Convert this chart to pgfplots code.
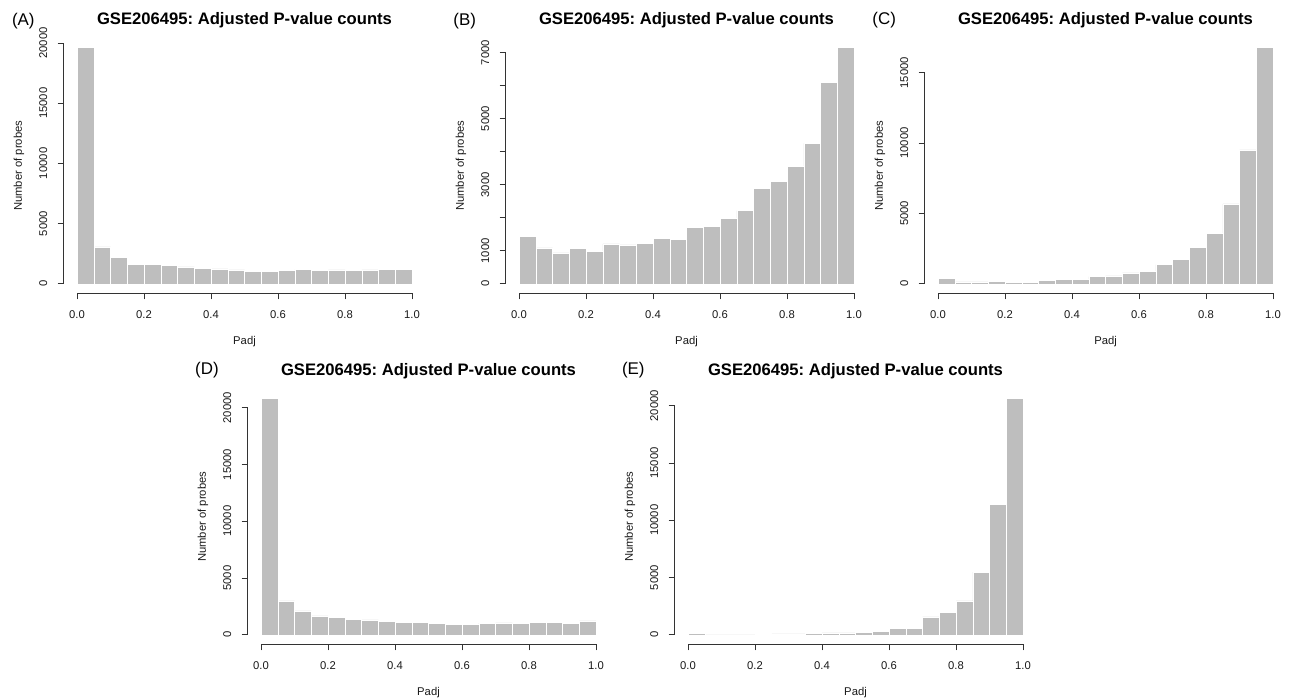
\documentclass[border=0pt]{standalone}
\usepackage{fontspec}
\setmainfont{Liberation Sans}
\usepackage{pgfplots}
\pgfplotsset{compat=1.18}
\definecolor{bargray}{HTML}{BEBEBE}
\definecolor{axgray}{HTML}{333333}
\pgfplotsset{
  rhist/.style={
    scale only axis, width=361.8bp, height=255bp,
    xmin=-0.04, xmax=1.04,
    axis x line*=bottom, axis y line*=left,
    separate axis lines,
    x axis line style={axgray, line width=0.8bp, shorten <=13.4bp, shorten >=13.4bp},
    clip=false,
    scaled y ticks=false,
    tick align=outside, major tick length=6bp,
    tick style={axgray, line width=0.8bp},
    xtick={0,0.2,0.4,0.6,0.8,1},
    xticklabels={0.0,0.2,0.4,0.6,0.8,1.0},
    ticklabel style={font=\fontsize{11.3}{13}\selectfont, inner sep=0pt, text=black!90},
    xticklabel style={anchor=north},
    xticklabel shift=10.7bp,
    yticklabel style={rotate=90, anchor=base},
    yticklabel shift=10.6bp,
    title style={font=\bfseries\fontsize{16.7}{19}\selectfont, at={([yshift=7.7bp]rel axis cs:0.5,1)}, anchor=base, inner sep=0pt},
    title={GSE206495: Adjusted P-value counts},
    xlabel={Padj}, ylabel={Number of probes},
    label style={font=\fontsize{11.3}{13}\selectfont, inner sep=0pt, text=black!90},
    xlabel style={at={([yshift=-51.5bp]rel axis cs:0.5,0)}, anchor=base},
    ylabel style={at={([xshift=-41.8bp]rel axis cs:0,0.5)}, anchor=base},
  },
  ytop/.style={y axis line style={axgray, line width=0.8bp, shorten <=9.44bp, shorten >=#1}},
  hbar/.style={ybar, bar width=0.05, fill=bargray, draw=white, line width=0.5bp},
}
\begin{document}
\frenchspacing
\begin{tikzpicture}[x=1bp,y=1bp]
\useasboundingbox (0,0) rectangle (1293,700);
% (A)
\begin{axis}[rhist, ytop=4.63bp, at={(63.6bp,406.7bp)}, anchor=south west,
  ymin=-784, ymax=20384,
  ytick={0,5000,10000,15000,20000}, yticklabels={0,5000,10000,15000,20000}]
\addplot[hbar] coordinates {
(0.025,19600) (0.075,3070) (0.125,2210) (0.175,1600) (0.225,1600)
(0.275,1520) (0.325,1410) (0.375,1300) (0.425,1240) (0.475,1160)
(0.525,1050) (0.575,1050) (0.625,1110) (0.675,1190) (0.725,1130)
(0.775,1160) (0.825,1130) (0.875,1160) (0.925,1220) (0.975,1190)};
\end{axis}
% (B)
\begin{axis}[rhist, ytop=14.40bp, at={(505.6bp,406.7bp)}, anchor=south west,
  ymin=-286, ymax=7436,
  ytick={0,1000,2000,3000,4000,5000,6000,7000}, yticklabels={0,1000,,3000,,5000,,7000}]
\addplot[hbar] coordinates {
(0.025,1440) (0.075,1090) (0.125,940) (0.175,1070) (0.225,980)
(0.275,1210) (0.325,1180) (0.375,1230) (0.425,1380) (0.475,1340)
(0.525,1720) (0.575,1750) (0.625,1980) (0.675,2220) (0.725,2900)
(0.775,3100) (0.825,3550) (0.875,4250) (0.925,6110) (0.975,7150)};
\end{axis}
% (C)
\begin{axis}[rhist, ytop=34.37bp, at={(924.6bp,406.7bp)}, anchor=south west,
  ymin=-670.8, ymax=17440.8,
  ytick={0,5000,10000,15000}, yticklabels={0,5000,10000,15000}]
\addplot[hbar] coordinates {
(0.025,380) (0.075,140) (0.125,140) (0.175,190) (0.225,90)
(0.275,90) (0.325,240) (0.375,330) (0.425,330) (0.475,520)
(0.525,570) (0.575,780) (0.625,900) (0.675,1370) (0.725,1730)
(0.775,2600) (0.825,3600) (0.875,5680) (0.925,9510) (0.975,16770)};
\end{axis}
% (D)
\begin{axis}[rhist, ytop=18.42bp, at={(247.6bp,55.7bp)}, anchor=south west,
  ymin=-831.6, ymax=21621.6,
  ytick={0,5000,10000,15000,20000}, yticklabels={0,5000,10000,15000,20000}]
\addplot[hbar] coordinates {
(0.025,20790) (0.075,3000) (0.125,2110) (0.175,1670) (0.225,1560)
(0.275,1350) (0.325,1320) (0.375,1170) (0.425,1090) (0.475,1090)
(0.525,1000) (0.575,940) (0.625,940) (0.675,1030) (0.725,1060)
(0.775,1000) (0.825,1120) (0.875,1120) (0.925,1030) (0.975,1230)};
\end{axis}
% (E)
\begin{axis}[rhist, ytop=16.43bp, at={(674.6bp,55.7bp)}, anchor=south west,
  ymin=-824.4, ymax=21434.4,
  ytick={0,5000,10000,15000,20000}, yticklabels={0,5000,10000,15000,20000}]
\addplot[hbar] coordinates {
(0.025,150) (0.075,0) (0.125,0) (0.175,0) (0.225,60)
(0.275,90) (0.325,90) (0.375,120) (0.425,170) (0.475,170)
(0.525,200) (0.575,290) (0.625,550) (0.675,580) (0.725,1570)
(0.775,1950) (0.825,2970) (0.875,5470) (0.925,11370) (0.975,20610)};
\end{axis}
% panel letters
\begin{scope}[every node/.style={font=\fontsize{17}{19}\selectfont, inner sep=0pt, anchor=center}]
\node at (23.3,678.7) {(A)};
\node at (464.7,679) {(B)};
\node at (884.2,680) {(C)};
\node at (207,329.5) {(D)};
\node at (633.3,330) {(E)};
\end{scope}
\end{tikzpicture}
\end{document}
